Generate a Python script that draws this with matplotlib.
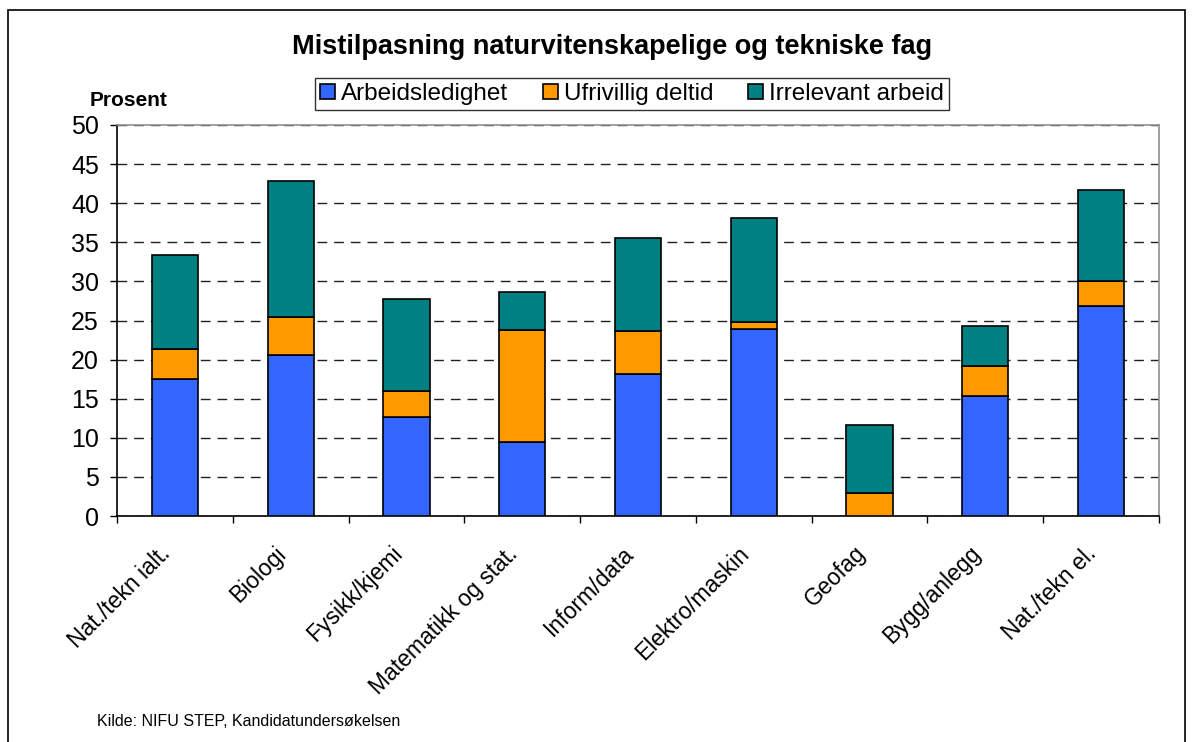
import numpy as np
import matplotlib.pyplot as plt
import matplotlib.transforms as mtransforms
from matplotlib.patches import Rectangle

plt.rcParams['font.family'] = ['Liberation Sans', 'DejaVu Sans']

categories = ["Nat./tekn ialt.", "Biologi", "Fysikk/kjemi", "Matematikk og stat.",
              "Inform/data", "Elektro/maskin", "Geofag", "Bygg/anlegg", "Nat./tekn el."]
arbeidsledighet = [17.5, 20.6, 12.7, 9.5, 18.2, 23.9, 0.0, 15.4, 26.8]
ufrivillig_deltid = [3.9, 4.8, 3.3, 14.3, 5.5, 0.9, 2.9, 3.8, 3.2]
irrelevant_arbeid = [12.0, 17.5, 11.8, 4.8, 11.8, 13.3, 8.8, 5.1, 11.7]
series_names = ["Arbeidsledighet", "Ufrivillig deltid", "Irrelevant arbeid"]
colors = ["#3366FF", "#FF9900", "#008080"]

W, H = 1193, 742
fig = plt.figure(figsize=(W / 100, H / 100), dpi=100)

# outer chart border
fig.patches.append(Rectangle((8 / W, -0.01), (1185 - 8) / W, (H - 10) / H + 0.01,
                             transform=fig.transFigure, fill=False,
                             edgecolor='black', linewidth=1.2))

ax = fig.add_axes([117 / W, (H - 516) / H, (1159 - 117) / W, (516 - 125) / H])

x = np.arange(len(categories))
a = np.array(arbeidsledighet)
u = np.array(ufrivillig_deltid)
r = np.array(irrelevant_arbeid)
bw = 0.4
ax.bar(x, a, bw, color=colors[0], edgecolor='black', linewidth=1.2, label=series_names[0], zorder=3)
ax.bar(x, u, bw, bottom=a, color=colors[1], edgecolor='black', linewidth=1.2, label=series_names[1], zorder=3)
ax.bar(x, r, bw, bottom=a + u, color=colors[2], edgecolor='black', linewidth=1.2, label=series_names[2], zorder=3)

ax.set_xlim(-0.5, len(categories) - 0.5)
ax.set_ylim(0, 50)
ax.set_yticks(np.arange(0, 51, 5))
ax.yaxis.grid(True, linestyle=(0, (7, 5)), color='#202020', linewidth=1.0, zorder=0)
ax.tick_params(axis='y', labelsize=18, length=5, direction='out', width=1.0, pad=8)

ax.set_xticks(x)
ax.set_xticklabels(categories, rotation=45, ha='right', rotation_mode='anchor', fontsize=16.5)
ax.tick_params(axis='x', length=0, pad=10)
ax.set_xticks(np.arange(-0.5, len(categories)), minor=True)
ax.tick_params(axis='x', which='minor', length=5, width=1.0)
# nudge rotated labels left/down like the original
shift = mtransforms.ScaledTranslation(-16 / 100, -12 / 100, fig.dpi_scale_trans)
for lbl in ax.get_xticklabels():
    lbl.set_transform(lbl.get_transform() + shift)

ax.spines['left'].set_color('black')
ax.spines['bottom'].set_color('black')
ax.spines['top'].set_color('#909090')
ax.spines['right'].set_color('#909090')
for s in ax.spines.values():
    s.set_linewidth(1.2)

fig.text(612 / W, 1 - 47 / H, "Mistilpasning naturvitenskapelige og tekniske fag",
         ha='center', va='center', fontsize=19.5, fontweight='bold')
fig.text(129 / W, 1 - 100 / H, "Prosent", ha='center', va='center', fontsize=15, fontweight='bold')
fig.text(97 / W, 1 - 722 / H, "Kilde: NIFU STEP, Kandidatundersøkelsen", ha='left', va='center', fontsize=11.5)

leg = fig.legend(loc='center', bbox_to_anchor=(632 / W, 1 - 94 / H), ncol=3, fontsize=17.5,
                 frameon=True, fancybox=False, edgecolor='black', handlelength=0.6,
                 handleheight=0.6, handletextpad=0.25, columnspacing=1.45, borderpad=0.2)
leg.get_frame().set_linewidth(1.0)

fig.savefig("out.png", dpi=100)
